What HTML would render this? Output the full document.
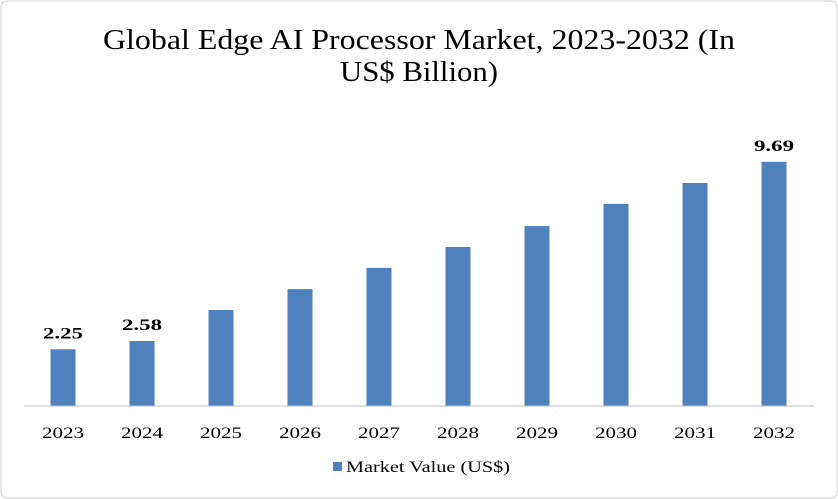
<!DOCTYPE html>
<html><head><meta charset="utf-8"><style>
html,body{margin:0;padding:0;background:#fff;}
svg{display:block;font-family:"Liberation Serif",serif;}
</style></head><body>
<svg id="chart" width="838" height="499" viewBox="0 0 838 499">
<rect x="1" y="1" width="836" height="497" rx="6" fill="#fff" stroke="#d0d0d0"/>
<text x="419" y="49" text-anchor="middle" font-size="28" textLength="632" lengthAdjust="spacingAndGlyphs" fill="#000">Global Edge AI Processor Market, 2023-2032 (In</text>
<text x="419" y="81" text-anchor="middle" font-size="28" textLength="158" lengthAdjust="spacingAndGlyphs" fill="#000">US$ Billion)</text>
<g id="bars"></g>
<line x1="24" y1="406" x2="814" y2="406" stroke="#bfbfbf" stroke-width="1"/>
<g>
<rect x="333" y="462" width="9" height="9" fill="#4f81bd"/>
<text x="346" y="472" font-size="16" textLength="164" lengthAdjust="spacingAndGlyphs" fill="#000">Market Value (US$)</text>
</g>
</svg>
<script>
const categories=["2023","2024","2025","2026","2027","2028","2029","2030","2031","2032"];
const values=[2.25,2.58,3.81,4.64,5.48,6.31,7.14,8.02,8.85,9.69];
const printedLabels=["2.25","2.58","","","","","","","","9.69"];
const NS="http://www.w3.org/2000/svg";
const baseY=406, pxPerUnit=25.2, firstX=63, step=79, barW=25;
function xScale(i){return firstX+i*step;}
function yScale(v){return baseY-v*pxPerUnit;}
const g=document.getElementById('bars');
categories.forEach((c,i)=>{
  const x=xScale(i), y=yScale(values[i]);
  const r=document.createElementNS(NS,'rect');
  r.setAttribute('x',x-barW/2);r.setAttribute('y',y);
  r.setAttribute('width',barW);r.setAttribute('height',baseY-y);
  r.setAttribute('fill','#4f81bd');
  
  
  g.appendChild(r);
  const t=document.createElementNS(NS,'text');
  t.setAttribute('x',x);t.setAttribute('y',438);
  t.setAttribute('text-anchor','middle');t.setAttribute('font-size','16');
  t.setAttribute('textLength','42');t.setAttribute('lengthAdjust','spacingAndGlyphs');
  t.textContent=c;
  
  
  g.appendChild(t);
  if(printedLabels[i]){
    const l=document.createElementNS(NS,'text');
    l.setAttribute('x',x);l.setAttribute('y',y-11);
    l.setAttribute('text-anchor','middle');l.setAttribute('font-size','16');
    l.setAttribute('font-weight','bold');
    l.setAttribute('textLength','40');l.setAttribute('lengthAdjust','spacingAndGlyphs');
    l.textContent=printedLabels[i];
    
    
    g.appendChild(l);
  }
});
</script>
</body></html>
